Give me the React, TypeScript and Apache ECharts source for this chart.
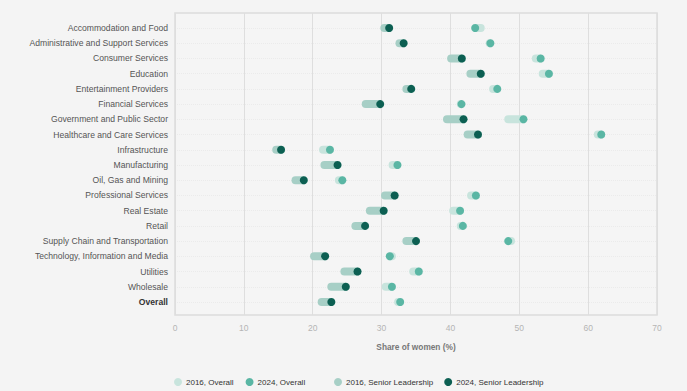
import React, { useEffect, useRef } from "react";
import * as echarts from "echarts";

const categories = [
  "Accommodation and Food",
  "Administrative and Support Services",
  "Consumer Services",
  "Education",
  "Entertainment Providers",
  "Financial Services",
  "Government and Public Sector",
  "Healthcare and Care Services",
  "Infrastructure",
  "Manufacturing",
  "Oil, Gas and Mining",
  "Professional Services",
  "Real Estate",
  "Retail",
  "Supply Chain and Transportation",
  "Technology, Information and Media",
  "Utilities",
  "Wholesale",
  "Overall",
];

const overall2016 = [44.4, 45.7, 52.4, 53.4, 46.2, 41.5, 48.4, 61.4, 21.5, 31.6, 23.8, 43.0, 40.4, 41.5, 48.8, 31.5, 34.6, 30.6, 32.4];
const overall2024 = [43.6, 45.8, 53.1, 54.3, 46.8, 41.6, 50.6, 61.9, 22.5, 32.3, 24.3, 43.7, 41.4, 41.8, 48.4, 31.2, 35.4, 31.5, 32.7];
const senior2016 = [30.4, 32.6, 40.1, 42.9, 33.6, 27.7, 39.5, 42.5, 14.7, 21.7, 17.5, 30.5, 28.3, 26.2, 33.6, 20.2, 24.6, 22.7, 21.3];
const senior2024 = [31.1, 33.2, 41.65, 44.4, 34.3, 29.8, 41.9, 44.0, 15.4, 23.6, 18.7, 31.9, 30.3, 27.6, 35.0, 21.8, 26.5, 24.8, 22.7];

const xTicks = [0, 10, 20, 30, 40, 50, 60, 70];

const C_O16 = "#c8e4dd";
const C_O24 = "#5ab6a4";
const C_S16 = "#a7cfc6";
const C_S24 = "#0c5f52";
const FONT = "Liberation Sans, Arial, Helvetica, sans-serif";
const R = 4;

function capsule(params: any, api: any) {
  const idx = api.value(2);
  const a = api.coord([api.value(0), idx]);
  const b = api.coord([api.value(1), idx]);
  const x0 = Math.min(a[0], b[0]);
  const x1 = Math.max(a[0], b[0]);
  return {
    type: "rect",
    shape: { x: x0 - R, y: a[1] - R, width: x1 - x0 + 2 * R, height: 2 * R, r: R },
    style: { fill: api.visual("color") },
  };
}

export default function App() {
  const ref = useRef<HTMLDivElement>(null);
  useEffect(() => {
    if (!ref.current) return;
    const chart = echarts.init(ref.current, null, { renderer: "svg" });
    const xMin = xTicks[0];
    const xMax = xTicks[xTicks.length - 1];
    chart.setOption({
      animation: false,
      backgroundColor: "#f4f4f4",
      textStyle: { fontFamily: FONT },
      grid: [
        { left: 175, top: 13, width: 482, height: 302, show: true, borderColor: "#dcdcdc", borderWidth: 1.5, backgroundColor: "#f5f5f5" },
        { left: 175, top: 28, width: 482, height: 274 },
      ],
      xAxis: [
        {
          gridIndex: 0,
          type: "value",
          min: xMin,
          max: xMax,
          interval: 10,
          axisLine: { show: false },
          axisTick: { show: false },
          splitLine: { show: true, lineStyle: { color: "#dedede", width: 1 } },
          axisLabel: { color: "#b5b5b5", fontSize: 8.5, margin: 8, fontFamily: FONT },
          name: "Share of women (%)",
          nameLocation: "middle",
          nameGap: 28,
          nameTextStyle: { color: "#777", fontSize: 8.3, fontWeight: "bold", fontFamily: FONT },
        },
        { gridIndex: 1, type: "value", min: xMin, max: xMax, show: false },
      ],
      yAxis: [
        { gridIndex: 0, type: "value", show: false, splitLine: { show: false } },
        {
          gridIndex: 1,
          type: "category",
          data: categories,
          inverse: true,
          boundaryGap: false,
          axisLine: { show: false },
          axisTick: { show: false },
          splitLine: { show: true, lineStyle: { color: "#ebebeb", type: "dotted", width: 1 } },
          axisLabel: {
            color: "#555",
            fontSize: 8.6,
            margin: 7,
            fontFamily: FONT,
            formatter: (v: string) => (v === "Overall" ? "{b|" + v + "}" : v),
            rich: { b: { fontWeight: "bold", color: "#333", fontSize: 8.6, fontFamily: FONT } },
          },
        },
      ],
      legend: [
        {
          left: 169,
          top: 373,
          itemWidth: 8,
          itemHeight: 8,
          itemGap: 12,
          icon: "circle",
          textStyle: { color: "#333", fontSize: 8, fontFamily: FONT, padding: [0, 0, 0, -1] },
          data: [
            { name: "2016, Overall", itemStyle: { color: C_O16 } },
            { name: "2024, Overall", itemStyle: { color: C_O24 } },
          ],
        },
        {
          left: 329,
          top: 373,
          itemWidth: 8,
          itemHeight: 8,
          itemGap: 11,
          icon: "circle",
          textStyle: { color: "#333", fontSize: 8, fontFamily: FONT, padding: [0, 0, 0, -1] },
          data: [
            { name: "2016, Senior Leadership", itemStyle: { color: C_S16 } },
            { name: "2024, Senior Leadership", itemStyle: { color: C_S24 } },
          ],
        },
      ],
      series: [
        {
          name: "2016, Overall",
          type: "custom",
          xAxisIndex: 1,
          yAxisIndex: 1,
          itemStyle: { color: C_O16 },
          encode: { x: [0, 1], y: 2 },
          renderItem: capsule,
          data: categories.map((_, i) => [overall2016[i], overall2024[i], i]),
          z: 2,
        },
        {
          name: "2016, Senior Leadership",
          type: "custom",
          xAxisIndex: 1,
          yAxisIndex: 1,
          itemStyle: { color: C_S16 },
          encode: { x: [0, 1], y: 2 },
          renderItem: capsule,
          data: categories.map((_, i) => [senior2016[i], senior2024[i], i]),
          z: 2,
        },
        {
          name: "2024, Overall",
          type: "scatter",
          xAxisIndex: 1,
          yAxisIndex: 1,
          symbol: "circle",
          symbolSize: 8,
          itemStyle: { color: C_O24, opacity: 1 },
          data: categories.map((_, i) => [overall2024[i], i]),
          z: 3,
        },
        {
          name: "2024, Senior Leadership",
          type: "scatter",
          xAxisIndex: 1,
          yAxisIndex: 1,
          symbol: "circle",
          symbolSize: 8,
          itemStyle: { color: C_S24, opacity: 1 },
          data: categories.map((_, i) => [senior2024[i], i]),
          z: 3,
        },
      ],
    });
    return () => chart.dispose();
  }, []);
  return (
    <div
      ref={ref}
      style={{ position: "fixed", left: 0, top: 0, width: 687, height: 391, background: "#f4f4f4" }}
    />
  );
}
